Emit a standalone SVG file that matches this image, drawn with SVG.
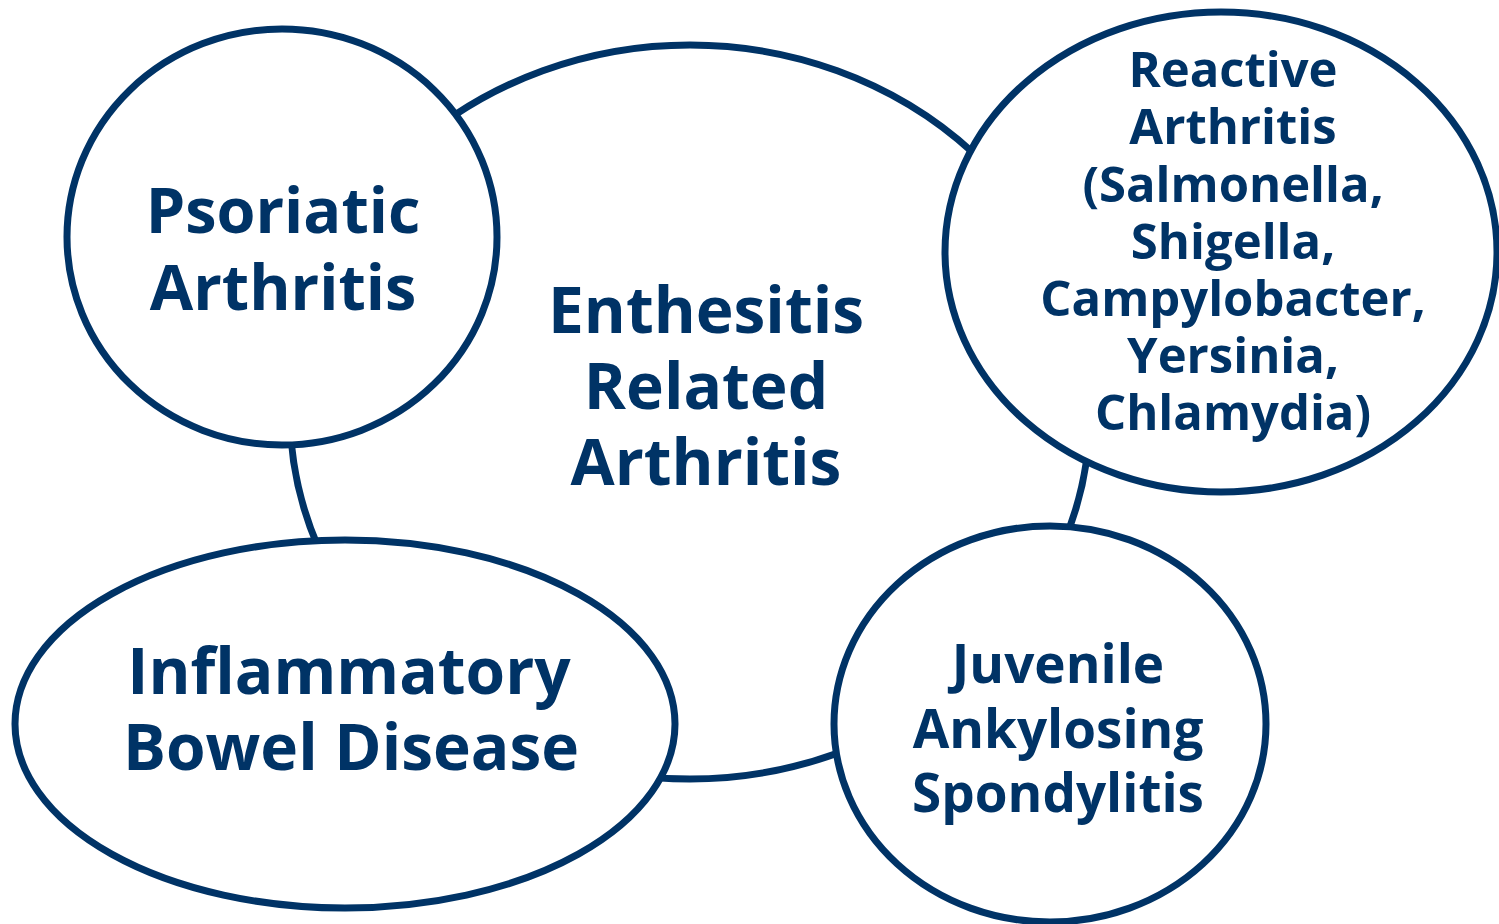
<svg xmlns="http://www.w3.org/2000/svg" width="1499" height="924" viewBox="0 0 1499 924">
<style>
.n{fill:#fff;stroke:#003366;stroke-width:7}
.t{font-family:"Open Sans","Liberation Sans",sans-serif;font-weight:bold;fill:#003366;text-anchor:middle}
</style>
<rect width="1499" height="924" fill="#fff"/>
<g id="era">
<ellipse class="n" cx="690" cy="412" rx="400" ry="367"/>
<text class="t" font-size="64"><tspan x="706" y="333">Enthesitis</tspan><tspan x="706" y="409">Related</tspan><tspan x="706" y="485">Arthritis</tspan></text>
</g>
<g id="psoriatic">
<ellipse class="n" cx="282" cy="237" rx="215" ry="208"/>
<text class="t" font-size="63"><tspan x="283" y="233">Psoriatic</tspan><tspan x="283" y="310">Arthritis</tspan></text>
</g>
<g id="reactive">
<ellipse class="n" cx="1221" cy="252" rx="276" ry="240"/>
<text class="t" font-size="49"><tspan x="1233" y="87">Reactive</tspan><tspan x="1233" y="144">Arthritis</tspan><tspan x="1233" y="202">(Salmonella,</tspan><tspan x="1233" y="259">Shigella,</tspan><tspan x="1233" y="316">Campylobacter,</tspan><tspan x="1233" y="373">Yersinia,</tspan><tspan x="1233" y="430">Chlamydia)</tspan></text>
</g>
<g id="ibd">
<ellipse class="n" cx="345" cy="724" rx="330" ry="184"/>
<text class="t" font-size="64"><tspan x="349" y="694">Inflammatory</tspan><tspan x="351" y="770">Bowel Disease</tspan></text>
</g>
<g id="jas">
<ellipse class="n" cx="1050" cy="724" rx="216" ry="198"/>
<text class="t" font-size="53"><tspan x="1058" y="683">Juvenile</tspan><tspan x="1058" y="748">Ankylosing</tspan><tspan x="1058" y="812">Spondylitis</tspan></text>
</g>
</svg>
